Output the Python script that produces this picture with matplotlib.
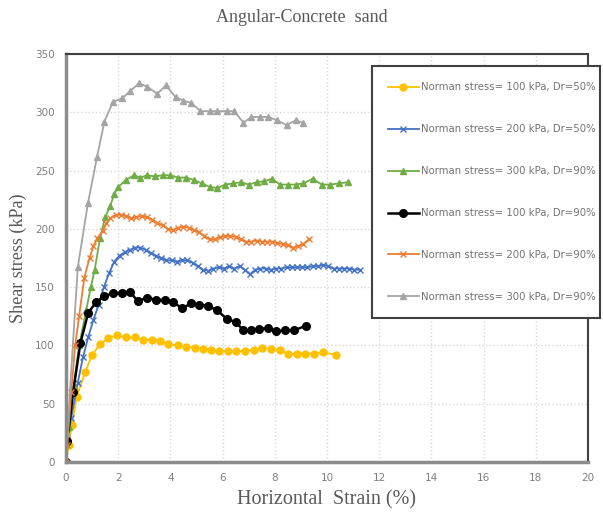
import matplotlib
matplotlib.use('Agg')
from matplotlib import pyplot as plt

# Norman stress = 100 kPa, Dr = 50%
yellow_x = [0, 0.1, 0.23, 0.41, 0.73, 1.0, 1.3, 1.6, 1.95, 2.3, 2.65, 2.95, 3.3, 3.6, 3.9,
            4.3, 4.6, 4.95, 5.25, 5.55, 5.85, 6.2, 6.5, 6.85, 7.2, 7.5, 7.85, 8.2, 8.5,
            8.85, 9.15, 9.5, 9.85, 10.35]
yellow_y = [0, 15, 32, 56, 77, 92, 101, 106, 109, 107, 107, 105, 105, 104, 101,
            100, 99, 98, 97, 96, 95, 95, 95, 95, 96, 98, 97, 96, 93,
            93, 93, 93, 94, 92]

# Norman stress = 200 kPa, Dr = 50%
blue_x = [0, 0.05, 0.2, 0.45, 0.65, 0.85, 1.05, 1.25, 1.45, 1.65, 1.85, 2.05, 2.25, 2.45,
          2.65, 2.85, 3.05, 3.25, 3.45, 3.65, 3.85, 4.05, 4.25, 4.45, 4.65, 4.85, 5.05,
          5.25, 5.45, 5.65, 5.85, 6.05, 6.25, 6.45, 6.65, 6.85, 7.05, 7.25, 7.45, 7.65,
          7.85, 8.05, 8.25, 8.45, 8.65, 8.85, 9.05, 9.25, 9.45, 9.65, 9.85, 10.05, 10.25,
          10.45, 10.65, 10.85, 11.05, 11.25]
blue_y = [0, 20, 38, 68, 90, 107, 122, 135, 150, 162, 172, 177, 180, 182,
          184, 184, 182, 179, 177, 175, 173, 173, 172, 173, 173, 171, 168,
          165, 164, 166, 167, 166, 168, 166, 168, 165, 161, 165, 166, 166,
          165, 166, 166, 167, 167, 167, 167, 167, 168, 168, 169, 168, 166,
          166, 166, 166, 165, 165]

# Norman stress = 300 kPa, Dr = 90%
green_x = [0, 0.1, 0.3, 0.5, 0.77, 0.95, 1.1, 1.3, 1.5, 1.7, 1.85, 2.0, 2.3, 2.6, 2.85,
           3.1, 3.4, 3.7, 4.0, 4.3, 4.6, 4.9, 5.2, 5.5, 5.8, 6.1, 6.4, 6.7, 7.0, 7.3,
           7.6, 7.9, 8.2, 8.5, 8.8, 9.1, 9.45, 9.8, 10.1, 10.45, 10.8]
green_y = [0, 30, 65, 100, 130, 150, 165, 192, 210, 220, 230, 236, 242, 246, 244,
           246, 245, 246, 246, 244, 244, 242, 239, 236, 235, 238, 239, 240, 238, 240,
           241, 243, 238, 238, 238, 239, 243, 238, 238, 239, 240]

# Norman stress = 100 kPa, Dr = 90%
black_x = [0, 0.05, 0.27, 0.55, 0.85, 1.15, 1.45, 1.8, 2.15, 2.45, 2.75, 3.1, 3.45, 3.8,
           4.1, 4.45, 4.8, 5.1, 5.45, 5.8, 6.15, 6.5, 6.8, 7.1, 7.4, 7.75, 8.05, 8.4,
           8.75, 9.2]
black_y = [0, 18, 60, 102, 128, 137, 142, 145, 145, 146, 138, 141, 139, 139,
           137, 132, 136, 135, 134, 130, 123, 120, 113, 113, 114, 115, 112, 113,
           113, 117]

# Norman stress = 200 kPa, Dr = 90%
orange_x = [0, 0.05, 0.2, 0.35, 0.5, 0.7, 0.9, 1.05, 1.2, 1.4, 1.55, 1.7, 1.9, 2.1, 2.3,
            2.5, 2.7, 2.9, 3.1, 3.3, 3.5, 3.7, 3.9, 4.1, 4.3, 4.5, 4.7, 4.9, 5.1, 5.3,
            5.5, 5.7, 5.9, 6.1, 6.3, 6.5, 6.7, 6.9, 7.1, 7.3, 7.5, 7.7, 7.9, 8.1, 8.3,
            8.5, 8.7, 8.9, 9.1, 9.3]
orange_y = [0, 15, 60, 100, 125, 158, 175, 185, 192, 198, 205, 209, 212, 212, 211,
            209, 210, 211, 210, 208, 205, 203, 200, 199, 201, 202, 201, 199, 197, 194,
            191, 191, 193, 194, 194, 193, 191, 189, 189, 190, 189, 189, 189, 188, 187,
            186, 184, 185, 187, 191]

# Norman stress = 300 kPa, Dr = 90%
gray_x = [0, 0.05, 0.45, 0.84, 1.19, 1.47, 1.8, 2.15, 2.45, 2.8, 3.1, 3.5, 3.83, 4.2,
          4.5, 4.8, 5.15, 5.5, 5.8, 6.15, 6.45, 6.8, 7.1, 7.45, 7.75, 8.1, 8.45, 8.8, 9.1]
gray_y = [0, 25, 167, 222, 262, 292, 309, 312, 318, 325, 322, 316, 323, 313,
          310, 308, 301, 301, 301, 301, 301, 291, 296, 296, 296, 293, 289, 293, 291]

labels = ['Norman stress= 100 kPa, Dr=50%', 'Norman stress= 200 kPa, Dr=50%',
          'Norman stress= 300 kPa, Dr=90%', 'Norman stress= 100 kPa, Dr=90%',
          'Norman stress= 200 kPa, Dr=90%', 'Norman stress= 300 kPa, Dr=90%']

fig = plt.figure(figsize=(6.03, 5.13), dpi=100)
ax = fig.add_axes([0.1095, 0.0994, 0.8655, 0.7953])

ax.plot(yellow_x, yellow_y, color='#FFC000', marker='o', markersize=5, lw=1.3, label=labels[0])
ax.plot(blue_x, blue_y, color='#4472C4', marker='x', markersize=4, mew=1, lw=1.3, label=labels[1])
ax.plot(green_x, green_y, color='#70AD47', marker='^', markersize=5, lw=1.3, label=labels[2])
ax.plot(black_x, black_y, color='black', marker='o', markersize=5.5, lw=1.8, label=labels[3])
ax.plot(orange_x, orange_y, color='#ED7D31', marker='x', markersize=4, mew=1, lw=1.3, label=labels[4])
ax.plot(gray_x, gray_y, color='#A5A5A5', marker='^', markersize=5, lw=1.3, label=labels[5])

ax.set_xlim(0, 20)
ax.set_ylim(0, 350)
ax.set_xticks(range(0, 21, 2))
ax.set_yticks(range(0, 351, 50))
ax.grid(True, color='#d9d9d9', linestyle=':', linewidth=1)
ax.set_axisbelow(True)
ax.tick_params(length=0, labelsize=7.5, labelcolor='#7f7f7f', pad=8)

for side in ['left', 'bottom']:
    ax.spines[side].set_color('#8c8c8c')
    ax.spines[side].set_linewidth(2.5)
for side in ['top', 'right']:
    ax.spines[side].set_color('#404040')
    ax.spines[side].set_linewidth(1.5)

ax.set_xlabel('Horizontal  Strain (%)', family='Liberation Serif', fontsize=14.5,
              color='#595959', labelpad=5)
ax.set_ylabel('Shear stress (kPa)', family='Liberation Serif', fontsize=13,
              color='#595959', labelpad=6)
fig.suptitle('Angular-Concrete  sand', family='Liberation Serif', fontsize=13,
             color='#595959', y=0.982)

leg = ax.legend(loc='center', bbox_to_anchor=(0.617, 0.382, 0.378, 0.487),
                bbox_transform=fig.transFigure, mode='expand', fontsize=7.3,
                labelspacing=3.15, handlelength=3.0, handletextpad=0.2,
                borderpad=1.6, borderaxespad=0, fancybox=False, framealpha=1,
                labelcolor='#737373')
leg.get_frame().set_edgecolor('#404040')
leg.get_frame().set_linewidth(1.5)
leg.set_clip_on(False)

plt.savefig('out.png', dpi=100)
